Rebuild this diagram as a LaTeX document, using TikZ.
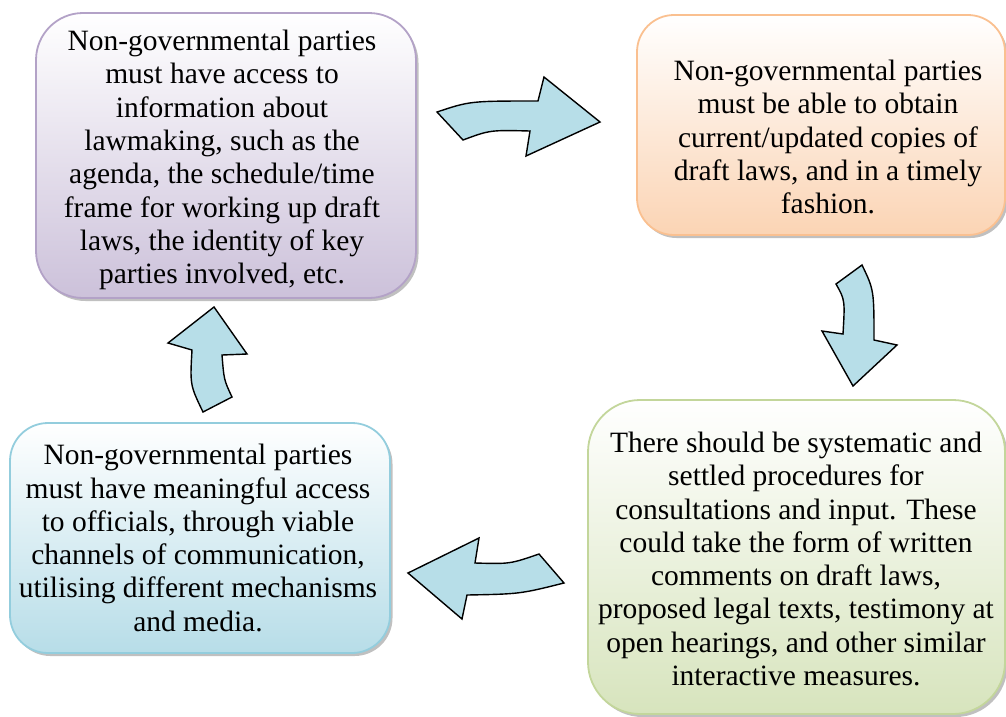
\documentclass[tikz,border=0pt]{standalone}
\usepackage{fontspec}
\setmainfont{Liberation Serif}
\usetikzlibrary{shadows}
\definecolor{pfill}{HTML}{CCC1DA}\definecolor{pline}{HTML}{B3A2C7}
\definecolor{ofill}{HTML}{FBD4B4}\definecolor{oline}{HTML}{FAC090}
\definecolor{gfill}{HTML}{D7E4BD}\definecolor{gline}{HTML}{C3D69B}
\definecolor{bfill}{HTML}{B7DDE8}\definecolor{bline}{HTML}{93CDDD}
\definecolor{afill}{HTML}{B7DEE8}
\begin{document}
\begin{tikzpicture}[x=1pt,y=-1pt,
  box/.style={draw=#1line, line width=1.8pt, top color=white, bottom color=#1fill,
    drop shadow={shadow xshift=2.5pt, shadow yshift=-3pt, fill=black!45, opacity=0.55}},
  boxtext/.style={align=center, inner sep=0pt, font=\fontsize{29.5}{33.3}\selectfont},
  blockarrow/.style={draw=black, fill=afill, line width=1.4pt, line join=miter}]
\useasboundingbox (0,0) rectangle (1006,716);

\node[box=p, minimum width=380pt, minimum height=285pt, rounded corners=47pt] (b1) at (226,155.5) {};
\node[box=o, minimum width=368pt, minimum height=220pt, rounded corners=37pt] (b2) at (821,125) {};
\node[box=g, minimum width=417pt, minimum height=314pt, rounded corners=52pt] (b3) at (796.5,557) {};
\node[box=b, minimum width=380pt, minimum height=230pt, rounded corners=38pt] (b4) at (200,538) {};

\node[boxtext] (t1) at (222,160) {Non-governmental parties\\must have access to\\information about\\lawmaking, such as the\\agenda, the schedule/time\\frame for working up draft\\laws, the identity of key\\parties involved, etc.};
\node[boxtext] (t2) at (828,137) {Non-governmental parties\\must be able to obtain\\current/updated copies of\\draft laws, and in a timely\\fashion.};
\node[boxtext] (t3) at (796,559) {There should be systematic and\\settled procedures for\\consultations and input. These\\could take the form of written\\comments on draft laws,\\proposed legal texts, testimony at\\open hearings, and other similar\\interactive measures.};
\node[boxtext] (t4) at (198,538) {Non-governmental parties\\must have meaningful access\\to officials, through viable\\channels of communication,\\utilising different mechanisms\\and media.};

% block arrows
\draw[blockarrow] (437,112) .. controls (470,101) .. (538,101) -- (544,77) -- (600,122)
  -- (526,156) -- (530,131) .. controls (490,130) .. (463,140) -- cycle;
\draw[blockarrow] (836,284) -- (862,265) .. controls (874,290) .. (874,340) -- (897,345)
  -- (853,386) -- (822,331) -- (843,334) .. controls (845,300) .. (836,284) -- cycle;
\draw[blockarrow] (539,554) .. controls (510,564) .. (475,563) -- (479,538) -- (408,573)
  -- (462,619) -- (467,595) .. controls (520,594) .. (564,583) -- cycle;
\draw[blockarrow] (203,412) .. controls (190,385) .. (192,350) -- (168,343) -- (214,307)
  -- (247,354) -- (222,355) .. controls (224,380) .. (232,397) -- cycle;
\end{tikzpicture}
\end{document}
